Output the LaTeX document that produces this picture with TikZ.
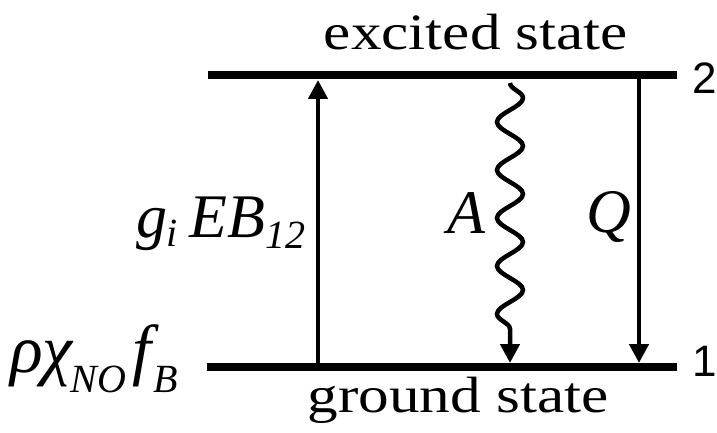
\documentclass[tikz,border=0pt]{standalone}
\usepackage{fontspec}
\setmainfont{Liberation Serif}
\newfontfamily\wideserif{Liberation Serif}[FakeStretch=1.2]
\newfontfamily\digitsans{Liberation Sans}
\usetikzlibrary{arrows.meta,decorations.pathmorphing}
\tikzset{
  level/.style={line width=8pt},
  trans/.style={line width=4.5pt,-{Triangle[width=19pt,length=19pt]}},
  statelbl/.style={inner sep=0pt,anchor=base,font=\wideserif\fontsize{51}{51}\selectfont},
  numlbl/.style={inner sep=0pt,anchor=center,font=\digitsans\fontsize{44}{44}\selectfont},
  symlbl/.style={inner sep=0pt,font=\itshape\fontsize{62}{62}\selectfont},
}
\newcommand{\subtxt}[3]{\raisebox{-#1}{\fontsize{#3}{#3}\selectfont #2}}
\begin{document}
\begin{tikzpicture}[x=1pt,y=-1pt]
\useasboundingbox (0,0) rectangle (717,433);
% levels
\coordinate (t1) at (208,75);
\coordinate (t2) at (677,75);
\coordinate (b1) at (207,367);
\coordinate (b2) at (677,367);
\draw[level] (t1) -- (t2);
\draw[level] (b1) -- (b2);
% transitions
\coordinate (ups) at (318,363);
\coordinate (upe) at (318,80);
\coordinate (As) at (510,83);
\coordinate (Ae) at (510,363);
\coordinate (Qs) at (639,79);
\coordinate (Qe) at (639,363);
\draw[trans] (ups) -- (upe);
\draw[trans,decorate,decoration={snake,amplitude=13pt,segment length=48pt,post length=18pt}] (As) -- (Ae);
\draw[trans] (Qs) -- (Qe);
% labels
\node[statelbl] (exc) at (476,50) {excited state};
\node[statelbl] (gnd) at (458,412) {ground state};
\node[numlbl] (n2) at (705,78) {2};
\node[numlbl] (n1) at (705,361) {1};
\node[symlbl,anchor=base] (lA) at (466,233) {A};
\node[symlbl,anchor=base] (lQ) at (609,232) {Q};
\node[symlbl,anchor=base west] (lg) at (136,237) {g\hspace{-1pt}\subtxt{9pt}{i}{40}\hspace{12pt}EB\subtxt{11pt}{12}{40}};
\node[symlbl,anchor=base west,font=\itshape\fontsize{68}{68}\selectfont] (lr) at (10,372) {ρχ\hspace{-2pt}\subtxt{20pt}{NO}{40}\hspace{6pt}f\hspace{2pt}\subtxt{20pt}{B}{40}};
\end{tikzpicture}
\end{document}
